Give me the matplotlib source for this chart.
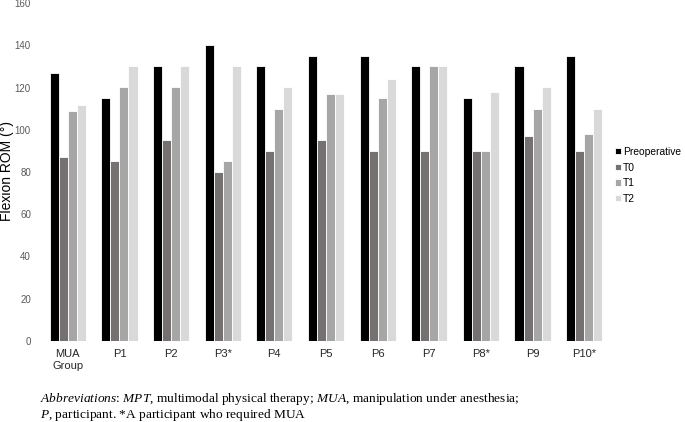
import numpy as np
import matplotlib
matplotlib.use('Agg')
import matplotlib.pyplot as plt

groups = ['MUA\nGroup', 'P1', 'P2', 'P3*', 'P4', 'P5', 'P6', 'P7', 'P8*', 'P9', 'P10*']
preop = [127, 115, 130, 140, 130, 135, 135, 130, 115, 130, 135]
t0 = [87, 85, 95, 80, 90, 95, 90, 90, 90, 97, 90]
t1 = [109, 120, 120, 85, 110, 117, 115, 130, 90, 110, 98]
t2 = [111.5, 130, 130, 130, 120, 117, 124, 130, 118, 120, 110]

series = [('Preoperative', preop, '#000000'),
          ('T0', t0, '#767171'),
          ('T1', t1, '#a6a6a6'),
          ('T2', t2, '#d9d9d9')]

plt.rcParams['font.family'] = ['Liberation Sans', 'DejaVu Sans']
plt.rcParams['mathtext.fontset'] = 'custom'
plt.rcParams['mathtext.it'] = 'Liberation Serif:italic'
plt.rcParams['mathtext.rm'] = 'Liberation Serif'

fig = plt.figure(figsize=(6.85, 4.22), dpi=100)
ax = fig.add_axes([42 / 685, 81 / 422, 568 / 685, 338 / 422])

x = np.arange(len(groups))
w = 0.175
for k, (name, vals, col) in enumerate(series):
    ax.bar(x + (k - 1.5) * w, vals, w, color=col, edgecolor='white',
           linewidth=0.6, label=name)

ax.set_xlim(-0.5, len(groups) - 0.5)
ax.set_ylim(0, 160)
ax.set_yticks(range(0, 161, 20))
ax.set_xticks(x)
ax.set_xticklabels(groups, fontsize=8, color='#262626')
ax.tick_params(axis='y', labelsize=7, colors='#595959', length=0, pad=8)
ax.tick_params(axis='x', length=0, pad=6)
for s in ax.spines.values():
    s.set_visible(False)

fig.text(7 / 685, 1 - 171 / 422, 'Flexion ROM (°)', rotation=90,
         ha='center', va='center', fontsize=10)

ax.legend(loc='center left', bbox_to_anchor=(1.0, 0.49), frameon=False,
          fontsize=7.4, handlelength=0.55, handleheight=0.55,
          handletextpad=0.2, labelspacing=0.55, borderaxespad=0.1)

# caption below the chart
cap_font = ['Liberation Serif', 'DejaVu Serif']
fig.text(40 / 685, 1 - 402 / 422,
         r'$\it{Abbreviations}$: $\it{MPT}$, multimodal physical therapy; '
         r'$\it{MUA}$, manipulation under anesthesia;',
         family=cap_font, fontsize=9.6, va='baseline')
fig.text(40 / 685, 1 - 418 / 422,
         r'$\it{P}$, participant. *A participant who required MUA',
         family=cap_font, fontsize=9.6, va='baseline')

fig.savefig('out.png', dpi=100)
